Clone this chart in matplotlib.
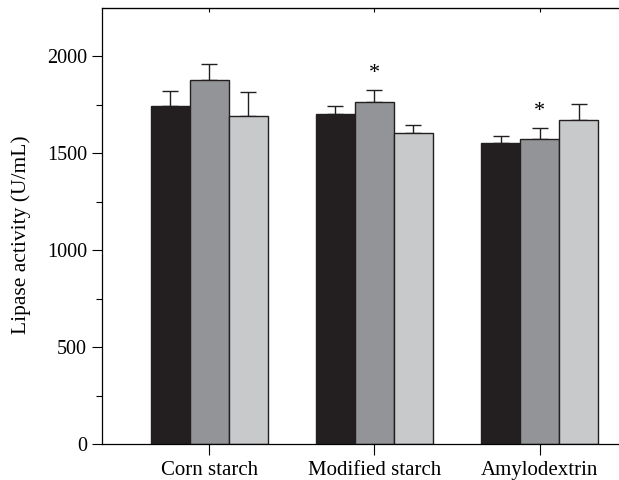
import matplotlib.pyplot as plt
import numpy as np

plt.rcParams['font.family'] = ['Liberation Serif', 'DejaVu Serif']

categories = ['Corn starch', 'Modified starch', 'Amylodextrin']
black_vals = [1746, 1704, 1553]
black_err = [77, 40, 36]
gray_vals = [1881, 1764, 1575]
gray_err = [79, 62, 57]
light_vals = [1692, 1606, 1674]
light_err = [124, 40, 79]
star_on_gray = [False, True, True]

fig = plt.figure(figsize=(6.19, 4.8), dpi=100)
ax = fig.add_axes([0.1643, 0.075, 0.8357, 0.9083])

x = np.arange(len(categories))
w = 0.236
series = [(black_vals, black_err, '#231f20'),
          (gray_vals, gray_err, '#939497'),
          (light_vals, light_err, '#c8c9cb')]
for i, (vals, errs, col) in enumerate(series):
    pos = x + (i - 1) * w
    ax.bar(pos, vals, w, color=col, edgecolor='#231f20', linewidth=1.0, zorder=2)
    ax.errorbar(pos, vals, yerr=[np.zeros(len(vals)), errs], fmt='none',
                ecolor='#231f20', elinewidth=1.0, capsize=6, capthick=1.0, zorder=1)

for j, flag in enumerate(star_on_gray):
    if flag:
        ax.text(x[j], gray_vals[j] + gray_err[j] + 35, '*', ha='center', va='bottom',
                fontsize=16)

ax.set_xlim(-0.65, 2.48)
ax.set_ylim(0, 2250)
ax.set_yticks([0, 500, 1000, 1500, 2000])
ax.set_yticks([250, 750, 1250, 1750], minor=True)
ax.set_xticks(x)
ax.set_xticklabels(categories, fontsize=15)
ax.tick_params(axis='y', which='major', length=7, width=0.8, labelsize=14.5, direction='out')
ax.tick_params(axis='y', which='minor', length=4, width=0.8, direction='out')
ax.tick_params(axis='x', which='major', length=8, width=0.8, direction='out', pad=4)
ax.set_ylabel('Lipase activity (U/mL)', fontsize=15.5)
ax.yaxis.set_label_coords(-0.137, 0.48)
ax.spines['right'].set_visible(False)
for s in ['left', 'bottom', 'top']:
    ax.spines[s].set_linewidth(0.9)

# top ticks point inward
sec = ax.secondary_xaxis('top')
sec.set_xticks(x)
sec.set_xticklabels([])
sec.tick_params(direction='in', length=3, width=0.8)
ax.tick_params(axis='x', top=False)

fig.savefig('out.png', dpi=100)
